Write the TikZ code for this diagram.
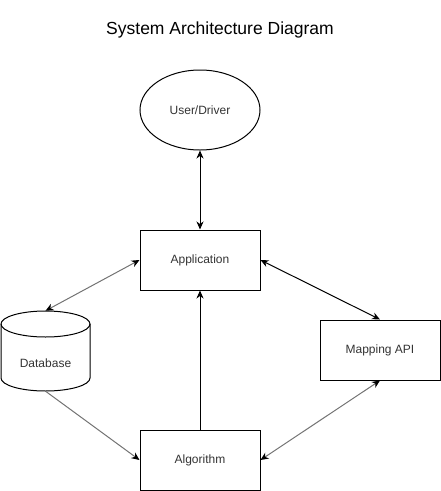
\documentclass[tikz,border=0pt]{standalone}
\usepackage{fontspec}
\setmainfont{Liberation Sans}
\usetikzlibrary{arrows.meta,shapes.geometric}
\begin{document}
\begin{tikzpicture}[x=1pt,y=-1pt,
  box/.style={draw=black,line width=1pt,minimum width=120pt,minimum height=60pt,inner sep=0pt,font=\fontsize{12}{14}\selectfont,text=black!80},
  conn/.style={line width=1pt,{Stealth[length=8pt,width=7pt,inset=2.5pt]}-{Stealth[length=8pt,width=7pt,inset=2.5pt]}},
  gconn/.style={line width=1pt,draw=black!55,
    {Stealth[length=8pt,width=7pt,inset=2.5pt,color=black]}-{Stealth[length=8pt,width=7pt,inset=2.5pt,color=black]}},
  gone/.style={line width=1pt,draw=black!55,-{Stealth[length=8pt,width=7pt,inset=2.5pt,color=black]}},
  one/.style={line width=1pt,-{Stealth[length=8pt,width=7pt,inset=2.5pt]}}]
\useasboundingbox (0,0) rectangle (441,491);
\node (title) at (220,30) {\fontsize{17.5}{20}\selectfont System Architecture Diagram};
\node[ellipse,draw,line width=1pt,minimum width=120pt,minimum height=80pt,inner sep=0pt,font=\fontsize{12}{14}\selectfont,text=black!80] (user) at (200,110) {User/Driver};
\node[box] (app) at (200,260) {Application};
\node[box] (map) at (380,350) {Mapping API};
\node[box] (alg) at (200,460) {Algorithm};
\node[minimum width=89pt,minimum height=80pt,inner sep=0pt] (db) at (45.5,351) {};
\draw[line width=1pt,fill=white] (1,324) -- (1,378) arc[start angle=180,end angle=0,x radius=44.5,y radius=13] -- (90,324) arc[start angle=0,end angle=-180,x radius=44.5,y radius=13] -- cycle;
\draw[line width=1pt] (1,324) arc[start angle=180,end angle=0,x radius=44.5,y radius=13];
\node[font=\fontsize{12}{14}\selectfont,text=black!80] (dbl) at (45.5,363) {Database};
\draw[conn] (user.south) -- (app.north);
\draw[gconn] (db.north) -- (app.west);
\draw[conn] (app.east) -- (map.north);
\draw[gconn] (map.south) -- (alg.east);
\draw[gone] (db.south) -- (alg.west);
\draw[one] (alg.north) -- (app.south);
\end{tikzpicture}
\end{document}
